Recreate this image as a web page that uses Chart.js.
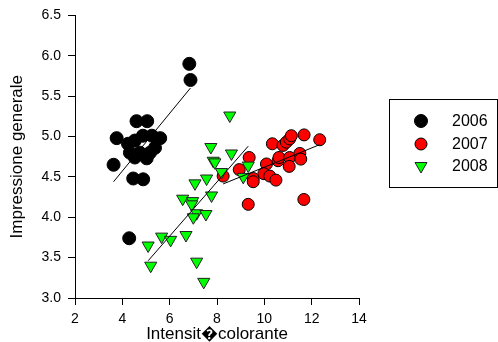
<!DOCTYPE html>
<html>
<head>
<meta charset="utf-8">
<script src="https://cdn.jsdelivr.net/npm/chart.js@4/dist/chart.umd.min.js"></script>
<style>
  html, body { margin: 0; padding: 0; background: #fff; }
  #wrap { position: relative; width: 498px; height: 342px; }
  #legend {
    position: absolute; left: 389px; top: 99px; width: 107px; height: 87px;
    border: 1px solid #000; font-family: "Liberation Sans", Arial, sans-serif;
    font-size: 16px; color: #000;
  }
  .item { position: absolute; left: 24px; height: 20px; line-height: 20px; }
  .item svg { position: absolute; left: 0; top: 3px; }
  .item span { position: absolute; left: 38px; top: 0; }
</style>
</head>
<body>
<div id="wrap">
  <canvas id="chart" width="498" height="342"></canvas>
  <div id="legend"></div>
</div>
<script>
// Intensita colorante (x) vs impressione generale (y), one array per year
var x2006 = [6.83, 6.88, 4.60, 5.05, 3.76, 5.60, 3.63, 4.24, 4.53, 4.87, 5.25, 4.32, 4.74, 5.17, 5.03, 4.53, 5.38, 4.46, 4.88, 4.29];
var y2006 = [5.90, 5.70, 5.19, 5.19, 4.98, 4.98, 4.65, 4.91, 4.95, 5.01, 5.01, 4.80, 4.80, 4.80, 4.73, 4.74, 4.86, 4.48, 4.47, 3.74];

var x2007 = [9.36, 8.94, 8.26, 9.53, 9.53, 10.09, 9.98, 10.23, 10.49, 10.34, 10.58, 10.62, 10.79, 10.93, 11.07, 11.14, 11.68, 12.34, 11.07, 11.05, 11.50, 11.54, 9.32, 11.67];
var y2007 = [4.74, 4.59, 4.51, 4.48, 4.44, 4.66, 4.54, 4.51, 4.46, 4.91, 4.70, 4.74, 4.89, 4.93, 4.97, 5.01, 5.02, 4.96, 4.74, 4.63, 4.79, 4.72, 4.16, 4.22];

var x2008 = [7.74, 7.84, 7.91, 7.56, 7.07, 7.77, 6.55, 6.97, 6.93, 7.14, 7.00, 7.53, 5.66, 6.04, 6.69, 5.09, 5.20, 7.14, 7.44, 8.54, 8.61, 8.19, 9.32, 9.11];
var y2008 = [4.87, 4.70, 4.68, 4.48, 4.42, 4.27, 4.23, 4.20, 4.16, 4.05, 4.00, 4.04, 3.76, 3.72, 3.78, 3.65, 3.40, 3.45, 3.20, 5.26, 4.79, 4.56, 4.64, 4.50];

var years = ["2006", "2007", "2008"];
var xTicks = [2, 4, 6, 8, 10, 12, 14];
var yTicks = [3.0, 3.5, 4.0, 4.5, 5.0, 5.5, 6.0, 6.5];

function toPoints(xs, ys) {
  var pts = [];
  for (var i = 0; i < xs.length; i++) pts.push({x: xs[i], y: ys[i]});
  return pts;
}

// least squares line, drawn over the x range of the data
function fitLine(xs, ys) {
  var n = xs.length, sx = 0, sy = 0, sxx = 0, sxy = 0;
  for (var i = 0; i < n; i++) {
    sx += xs[i]; sy += ys[i]; sxx += xs[i] * xs[i]; sxy += xs[i] * ys[i];
  }
  var b = (n * sxy - sx * sy) / (n * sxx - sx * sx);
  var a = (sy - b * sx) / n;
  var lo = Math.min.apply(null, xs), hi = Math.max.apply(null, xs);
  return [{x: lo, y: a + b * lo}, {x: hi, y: a + b * hi}];
}

function lineSet(xs, ys) {
  return {
    type: 'line', data: fitLine(xs, ys), borderColor: '#000', borderWidth: 1,
    pointRadius: 0, fill: false, order: 0
  };
}

var styles = [
  {bg: '#000000', border: '#000000', shape: 'circle', r: 6.5, rot: 0},
  {bg: '#ff0000', border: '#000000', shape: 'circle', r: 6, rot: 0},
  {bg: '#00ff00', border: '#222222', shape: 'triangle', r: 7, rot: 180}
];

var xs = [x2006, x2007, x2008], ys = [y2006, y2007, y2008];
var datasets = [];
for (var k = 0; k < 3; k++) {
  datasets.push(lineSet(xs[k], ys[k]));
  datasets.push({
    label: years[k], data: toPoints(xs[k], ys[k]),
    backgroundColor: styles[k].bg, borderColor: styles[k].border, borderWidth: 1,
    pointStyle: styles[k].shape, pointRadius: styles[k].r, pointRotation: styles[k].rot,
    order: 3 - k
  });
}

Chart.defaults.font.family = '"Liberation Sans", Arial, sans-serif';
Chart.defaults.color = '#000';

var axisGrid = {drawOnChartArea: false, drawTicks: true, tickLength: 7, color: '#000', lineWidth: 1};

new Chart(document.getElementById('chart').getContext('2d'), {
  type: 'scatter',
  data: {datasets: datasets},
  options: {
    responsive: false,
    animation: false,
    layout: {padding: {left: 0, top: 14, right: 139, bottom: 0}},
    plugins: {legend: {display: false}, tooltip: {enabled: false}},
    scales: {
      x: {
        type: 'linear', min: 2, max: 14,
        afterBuildTicks: function (s) { s.ticks = xTicks.map(function (v) { return {value: v}; }); },
        afterFit: function (s) { s.height = 44; },
        grid: axisGrid,
        border: {display: true, color: '#000', width: 1},
        ticks: {font: {size: 14}, padding: 6},
        title: {display: true, text: 'Intensit\uFFFDcolorante', font: {size: 17, lineHeight: 1}, padding: {top: 0, bottom: -1}}
      },
      y: {
        type: 'linear', min: 3, max: 6.5,
        afterBuildTicks: function (s) { s.ticks = yTicks.map(function (v) { return {value: v}; }); },
        afterFit: function (s) { s.width = 75; },
        grid: axisGrid,
        border: {display: true, color: '#000', width: 1},
        ticks: {font: {size: 14}, padding: 7, callback: function (v) { return v.toFixed(1); }},
        title: {display: true, text: 'Impressione generale', font: {size: 17, lineHeight: 1}, padding: {top: 9, bottom: 0}}
      }
    }
  }
});

// legend box on the right
var legend = document.getElementById('legend');
var rowTop = [11, 34, 56];
for (var j = 0; j < 3; j++) {
  var st = styles[j];
  var mark = st.shape === 'circle'
    ? '<circle cx="7" cy="7" r="' + st.r + '" fill="' + st.bg + '" stroke="' + st.border + '"/>'
    : '<polygon points="1,3.5 13,3.5 7,14" fill="' + st.bg + '" stroke="' + st.border + '"/>';
  var div = document.createElement('div');
  div.className = 'item';
  div.style.top = rowTop[j] + 'px';
  div.innerHTML = '<svg width="14" height="15" viewBox="0 0 14 15">' + mark + '</svg><span>' + years[j] + '</span>';
  legend.appendChild(div);
}
</script>
</body>
</html>
